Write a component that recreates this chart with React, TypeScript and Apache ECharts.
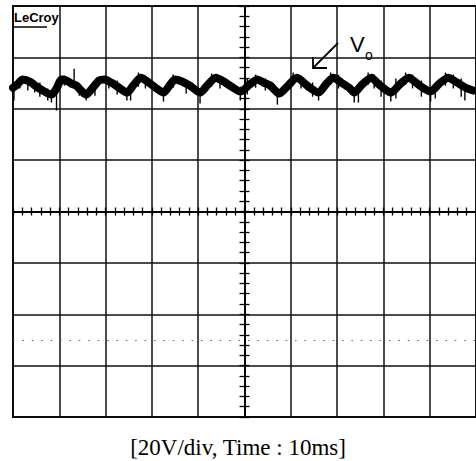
import React, { useEffect, useRef } from "react";
import * as echarts from "echarts";

// Time (ms, relative to screen centre) and voltage (V)
const traceTime = [
  -50.0, -49.1, -47.9, -46.4, -44.9, -43.6, -41.7, -40.6, -39.5, -38.5, -37.4, -36.3, -35.3, -34.2,
  -32.9, -31.4, -30.3, -28.8, -27.1, -25.4, -23.9, -22.4, -20.7, -19.0, -17.5, -16.2, -15.0, -13.5,
  -11.8, -9.6, -7.9, -6.2, -4.5, -2.8, -0.9, 1.1, 2.8, 4.1, 5.6, 7.5, 9.2, 11.3, 12.8, 14.1, 16.0,
  17.7, 19.2, 20.9, 22.6, 23.7, 25.4, 27.4, 28.8, 30.1, 31.6, 33.5, 35.5, 37.0, 38.5, 40.2, 42.1,
  44.0, 45.9, 48.1, 49.4,
];
const traceVolt = [
  48.2, 49.4, 51.4, 50.6, 48.6, 47.1, 45.5, 47.9, 51.4, 51.0, 49.8, 49.0, 47.1, 45.5,
  47.9, 51.0, 51.4, 50.2, 48.2, 46.3, 49.4, 52.1, 50.2, 47.9, 46.3, 49.0, 51.4, 50.6,
  49.0, 46.3, 49.4, 52.1, 50.6, 48.6, 46.7, 49.4, 51.4, 50.2, 49.0, 45.9, 48.6, 52.1, 50.2, 48.2, 46.3,
  49.8, 52.1, 50.2, 48.2, 46.3, 49.4, 52.1, 49.8, 47.9, 46.3, 49.4, 52.1, 50.2, 48.2, 46.7, 49.8,
  52.1, 50.2, 47.9, 47.1,
];

// Noise hairs on the trace: time, lowest and highest voltage
const spikeTime = [
  -49.8, -48.5, -46.8, -45.3, -44.2, -42.5, -41.7, -40.6, -38.9, -36.8, -35.7, -34.2, -32.3, -29.3,
  -27.5, -25.4, -24.6, -22.9, -21.4, -17.5, -15.4, -12.6, -9.6, -7.1, -5.3, -0.9, 0.6, 2.4, 4.5,
  7.1, 10.5, 12.2, 14.7, 16.0, 18.6, 20.3, 23.7, 24.6, 26.7, 28.0, 29.5, 31.6, 32.7, 34.8, 36.3,
  38.2, 40.2, 41.2, 43.4, 45.1, 46.8, 47.6,
];
const spikeLow = [
  43.2, 47.9, 47.1, 46.3, 44.7, 43.2, 42.4, 39.3, 49.0, 49.4, 45.1, 43.2, 45.1, 47.9,
  45.5, 43.2, 43.2, 48.6, 47.9, 42.8, 48.2, 45.9, 42.0, 48.6, 47.9, 43.2, 45.5, 48.2, 47.1,
  41.6, 49.0, 47.9, 44.7, 43.2, 49.4, 47.9, 42.4, 42.4, 49.4, 47.9, 44.7, 42.8, 44.0, 49.4, 47.9,
  44.7, 42.8, 44.0, 49.0, 47.9, 44.7, 43.2,
];
const spikeHigh = [
  49.0, 52.5, 52.5, 51.0, 50.2, 47.9, 47.1, 47.9, 52.9, 55.6, 49.0, 47.1, 51.0, 52.5,
  51.0, 47.1, 47.9, 54.1, 52.9, 47.9, 53.3, 51.0, 47.9, 53.7, 52.9, 48.6, 51.8, 53.3, 51.8,
  47.9, 54.1, 52.9, 50.2, 47.9, 54.1, 53.3, 48.2, 47.9, 54.1, 53.3, 51.0, 47.9, 51.8, 54.1, 53.3,
  51.0, 48.2, 49.0, 54.1, 53.3, 51.8, 47.9,
];

const timeRange = [-50, 50];
const voltRange = [-80, 80];
const timeDiv = 10;
const voltDiv = 20;
const dottedLevel = -50;

const captionText = "[20V/div, Time : 10ms]";
const logoText = "LeCroy";
const traceLabel = "V";
const traceLabelSub = "o";

export default function App() {
  const ref = useRef<HTMLDivElement>(null);
  useEffect(() => {
    if (!ref.current) return;
    const chart = echarts.init(ref.current, null, { renderer: "svg" });
    const black = "#000";
    const mkX = (pos: string, split: boolean) => ({
      type: "value",
      min: timeRange[0],
      max: timeRange[1],
      interval: timeDiv,
      position: pos,
      axisLine: { onZero: true, onZeroAxisIndex: 0, lineStyle: { color: black, width: 1.5 } },
      axisTick: { show: true, inside: true, length: 4, lineStyle: { color: black, width: 1.3 } },
      minorTick: { show: true, splitNumber: 5, length: 4, lineStyle: { color: black, width: 1.3 } },
      axisLabel: { show: false },
      splitLine: { show: split, lineStyle: { color: "#111", width: 1.5 } },
    });
    const mkY = (pos: string, split: boolean) => ({
      type: "value",
      min: voltRange[0],
      max: voltRange[1],
      interval: voltDiv,
      position: pos,
      axisLine: { onZero: true, onZeroAxisIndex: 0, lineStyle: { color: black, width: 1.5 } },
      axisTick: { show: true, inside: true, length: 5, lineStyle: { color: black, width: 1.3 } },
      minorTick: { show: true, splitNumber: 5, length: 5, lineStyle: { color: black, width: 1.3 } },
      axisLabel: { show: false },
      splitLine: { show: split, lineStyle: { color: "#111", width: 1.5 } },
    });
    chart.setOption({
      animation: false,
      backgroundColor: "#fff",
      title: {
        text: captionText,
        left: "center",
        top: 431,
        textStyle: { fontFamily: "Liberation Serif", fontSize: 23, fontWeight: "normal", color: "#000" },
      },
      grid: { left: 13, top: 6, width: 468, height: 411, show: true, borderColor: black, borderWidth: 2, backgroundColor: "transparent" },
      xAxis: [mkX("bottom", true), mkX("top", false)],
      yAxis: [mkY("left", true), mkY("right", false)],
      series: [
        {
          type: "line",
          xAxisIndex: 0,
          yAxisIndex: 0,
          data: traceTime.map((t, i) => [t, traceVolt[i]]),
          showSymbol: false,
          smooth: 0.25,
          lineStyle: { color: black, width: 8, join: "round", cap: "round" },
          markLine: {
            silent: true,
            symbol: "none",
            label: { show: false },
            lineStyle: { color: "#666", width: 1.2, type: [1.5, 7.9] },
            data: [{ yAxis: dottedLevel }],
          },
        },
        {
          type: "custom",
          xAxisIndex: 0,
          yAxisIndex: 0,
          data: spikeTime.map((t, i) => [t, spikeLow[i], spikeHigh[i]]),
          encode: { x: 0, y: [1, 2] },
          renderItem: (params: any, api: any) => {
            const p1 = api.coord([api.value(0), api.value(1)]);
            const p2 = api.coord([api.value(0), api.value(2)]);
            return {
              type: "line",
              shape: { x1: p1[0], y1: p1[1], x2: p2[0], y2: p2[1] },
              style: { stroke: black, lineWidth: 1.4 },
            };
          },
        },
      ],
      graphic: [
        {
          type: "text",
          x: 14,
          y: 17,
          style: { text: logoText, fontFamily: "Liberation Sans", fontWeight: "bold", fontSize: 13, fill: black, align: "left", verticalAlign: "middle" },
        },
        { type: "line", shape: { x1: 14, y1: 27, x2: 47, y2: 27 }, style: { stroke: black, lineWidth: 1.5 } },
        {
          type: "text",
          x: 350,
          y: 44,
          style: { text: traceLabel, fontFamily: "Liberation Sans", fontSize: 22, fill: black, align: "left", verticalAlign: "middle" },
        },
        {
          type: "text",
          x: 369,
          y: 55,
          style: { text: traceLabelSub, fontFamily: "Liberation Sans", fontSize: 14, fill: black, align: "center", verticalAlign: "middle" },
        },
        { type: "line", shape: { x1: 314, y1: 67, x2: 338, y2: 43 }, style: { stroke: black, lineWidth: 1.8 } },
        { type: "polyline", shape: { points: [[313, 57], [313, 68], [327, 68]] }, style: { stroke: black, lineWidth: 1.8, fill: "none" } },
      ],
    });
    return () => chart.dispose();
  }, []);
  return (
    <div
      ref={ref}
      style={{ position: "fixed", left: 0, top: 0, width: 476, height: 461, background: "#fff" }}
    />
  );
}
